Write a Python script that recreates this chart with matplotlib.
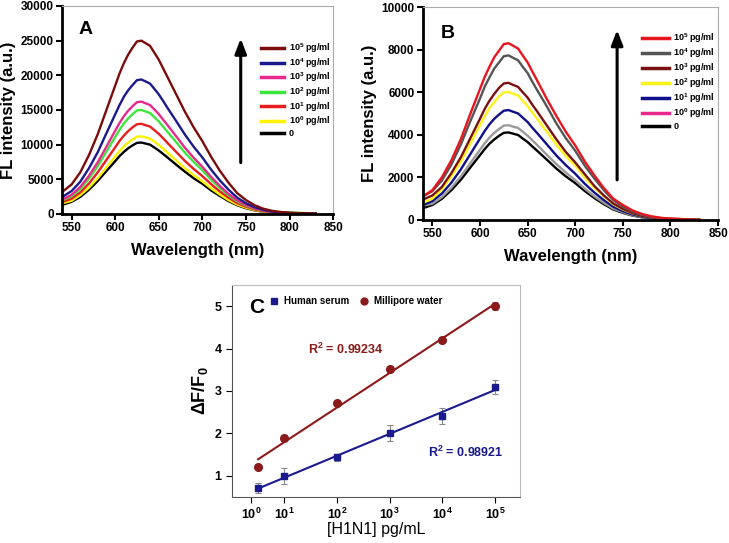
import numpy as np
import matplotlib
matplotlib.use('Agg')
import matplotlib.pyplot as plt
from matplotlib.lines import Line2D

plt.rcParams['font.family'] = ['Liberation Sans', 'DejaVu Sans']
plt.rcParams['mathtext.fontset'] = 'custom'
plt.rcParams['mathtext.rm'] = 'Liberation Sans:bold'
plt.rcParams['mathtext.bf'] = 'Liberation Sans:bold'
plt.rcParams['mathtext.default'] = 'bf'

# ---------------- data ----------------
wavelength = [540, 550, 560, 570, 580, 590, 600, 605, 610, 615, 620, 625, 630, 635, 640, 645, 650, 655,
              660, 670, 680, 690, 700, 710, 720, 730, 740, 750, 760, 770, 780, 790, 800, 810, 820, 830]

# Panel A spectra (a.u.)
a_0   = [1350, 1750, 2450, 3500, 4750, 6200, 7600, 8340, 8950, 9480, 9900, 10250, 10300, 10150, 10000, 9580, 9150, 8650,
         8150, 7100, 6100, 5150, 4350, 3400, 2600, 1850, 1250, 820, 520, 310, 185, 110, 70, 50, 30, 20]
a_1e0 = [1550, 1900, 2700, 3800, 5150, 6700, 8300, 9070, 9750, 10300, 10750, 11140, 11200, 11030, 10850, 10420, 9950, 9410,
         8850, 7700, 6600, 5600, 4700, 3700, 2800, 2000, 1350, 900, 560, 340, 200, 120, 80, 55, 35, 20]
a_1e1 = [1750, 2200, 3100, 4400, 6000, 7800, 9600, 10530, 11300, 11960, 12500, 12940, 13000, 12800, 12600, 12090, 11550, 10920,
         10250, 8950, 7650, 6500, 5450, 4300, 3250, 2350, 1550, 1050, 650, 390, 230, 140, 90, 65, 40, 25]
a_1e2 = [2000, 2550, 3600, 5100, 6900, 9000, 11100, 12150, 13050, 13800, 14400, 14930, 15000, 14780, 14550, 13950, 13350, 12600,
         11850, 10350, 8850, 7500, 6300, 4950, 3750, 2700, 1800, 1200, 760, 470, 300, 220, 190, 160, 130, 110]
a_1e3 = [2100, 2750, 3900, 5500, 7450, 9700, 12000, 13120, 14100, 14900, 15550, 16120, 16200, 15960, 15700, 15070, 14400, 13610,
         12800, 11200, 9550, 8100, 6800, 5350, 4050, 2900, 1950, 1300, 810, 490, 290, 180, 110, 80, 50, 30]
a_1e4 = [2500, 3300, 4650, 6600, 8900, 11650, 14350, 15710, 16900, 17850, 18600, 19300, 19400, 19110, 18800, 18040, 17250, 16300,
         15300, 13400, 11450, 9700, 8150, 6400, 4850, 3500, 2350, 1550, 970, 580, 350, 210, 140, 100, 60, 40]
a_1e5 = [3250, 4250, 6000, 8500, 11500, 15000, 18500, 20250, 21750, 23000, 24000, 24880, 25000, 24630, 24250, 23250, 22250, 21000,
         19750, 17250, 14750, 12500, 10500, 8250, 6250, 4500, 3000, 2000, 1250, 750, 450, 275, 175, 125, 75, 50]
a_labels = ['0', '10$^0$ pg/ml', '10$^1$ pg/ml', '10$^2$ pg/ml', '10$^3$ pg/ml', '10$^4$ pg/ml', '10$^5$ pg/ml']
a_colors = ['#000000', '#FFF200', '#E81E1E', '#3CE63C', '#E8288C', '#1A1A8C', '#7B0C0C']

# Panel B spectra (a.u.)
b_0   = [550, 700, 990, 1400, 1890, 2470, 3040, 3330, 3580, 3780, 3950, 4090, 4110, 4050, 3990, 3820, 3660, 3450,
         3250, 2840, 2420, 2050, 1730, 1360, 1030, 740, 490, 330, 205, 125, 75, 45, 29, 20, 12, 8]
b_1e0 = [680, 760, 1070, 1510, 2050, 2670, 3290, 3600, 3870, 4090, 4270, 4430, 4450, 4380, 4320, 4140, 3960, 3740,
         3520, 3070, 2630, 2230, 1870, 1470, 1110, 800, 530, 360, 220, 135, 80, 50, 30, 22, 13, 9]
b_1e1 = [700, 880, 1240, 1750, 2380, 3100, 3820, 4180, 4490, 4750, 4950, 5130, 5160, 5080, 5000, 4800, 4600, 4330,
         4080, 3560, 3040, 2580, 2170, 1700, 1290, 930, 620, 410, 260, 155, 95, 57, 36, 26, 15, 10]
b_1e2 = [800, 1000, 1450, 2050, 2750, 3600, 4450, 4870, 5250, 5530, 5800, 5990, 6015, 5920, 5850, 5590, 5350, 5050,
         4750, 4150, 3550, 3000, 2550, 2000, 1500, 1100, 730, 490, 310, 190, 120, 80, 60, 45, 35, 30]
b_1e3 = [950, 1150, 1550, 2200, 2950, 3850, 4750, 5220, 5600, 5920, 6200, 6410, 6440, 6340, 6250, 5990, 5750, 5410,
         5100, 4450, 3800, 3200, 2700, 2150, 1600, 1150, 770, 520, 320, 190, 115, 70, 45, 30, 20, 10]
b_1e4 = [1100, 1350, 1850, 2600, 3550, 4650, 5700, 6260, 6700, 7110, 7400, 7690, 7730, 7610, 7500, 7190, 6900, 6490,
         6100, 5350, 4550, 3850, 3250, 2550, 1950, 1400, 930, 620, 390, 230, 140, 85, 55, 40, 25, 15]
b_1e5 = [1100, 1400, 2000, 2800, 3800, 5000, 6150, 6720, 7200, 7640, 7950, 8260, 8300, 8180, 8050, 7720, 7400, 6970,
         6550, 5700, 4900, 4150, 3500, 2750, 2100, 1500, 1000, 700, 450, 280, 170, 100, 60, 40, 25, 15]
b_labels = ['0', '10$^0$ pg/ml', '10$^1$ pg/ml', '10$^2$ pg/ml', '10$^3$ pg/ml', '10$^4$ pg/ml', '10$^5$ pg/ml']
b_colors = ['#000000', '#9A9A9A', '#10108A', '#FFF21A', '#7A1010', '#555555', '#E8141E']
b_legend_colors = ['#000000', '#E8288C', '#10108A', '#FFF21A', '#7A1010', '#555555', '#E8141E']

# Panel C calibration
c_tick_pos = [0.37, 1, 2, 3, 4, 5]
c_tick_labels = ['10$^0$', '10$^1$', '10$^2$', '10$^3$', '10$^4$', '10$^5$']
c_x = [0.5, 1, 2, 3, 4, 5]
serum_y = [0.70, 1.00, 1.43, 2.00, 2.41, 3.10]
serum_err = [0.12, 0.19, 0.08, 0.19, 0.19, 0.17]
water_y = [1.20, 1.90, 2.71, 3.51, 4.20, 5.00]
water_err = [0.07, 0.07, 0.06, 0.06, 0.07, 0.09]

# ---------------- figure ----------------
fig = plt.figure(figsize=(7.29, 5.43), dpi=100)

def style_spectrum_axes(ax):
    for s in ['left', 'bottom']:
        ax.spines[s].set_linewidth(2.0)
        ax.spines[s].set_color('black')
    for s in ['top', 'right']:
        ax.spines[s].set_linewidth(0.8)
        ax.spines[s].set_color('#AAAAAA')
    ax.tick_params(axis='both', direction='out', length=4, width=1.5, labelsize=8.5,
                   top=False, right=False, pad=2)
    for lab in ax.get_xticklabels() + ax.get_yticklabels():
        lab.set_fontweight('bold')
    ax.set_xlabel('Wavelength (nm)', fontsize=12, fontweight='bold', labelpad=6)
    ax.set_ylabel('FL intensity (a.u.)', fontsize=12, fontweight='bold', labelpad=3)

# Panel A
axA = fig.add_axes([0.085, 0.606, 0.372, 0.383])
seriesA = [a_0, a_1e0, a_1e1, a_1e2, a_1e3, a_1e4, a_1e5]
for ys, c, lab in zip(seriesA, a_colors, a_labels):
    axA.plot(wavelength, ys, color=c, lw=1.7, label=lab)
axA.set_xlim(539, 850)
axA.set_ylim(0, 30000)
axA.set_xticks([550, 600, 650, 700, 750, 800, 850])
axA.set_yticks([0, 5000, 10000, 15000, 20000, 25000, 30000])
style_spectrum_axes(axA)
axA.text(0.06, 0.885, 'A', transform=axA.transAxes, fontsize=14, fontweight='bold', va='center')
axA.annotate('', xy=(744, 25700), xytext=(744, 7000),
             arrowprops=dict(arrowstyle='-|>,head_width=0.35,head_length=0.9', lw=2.2, color='black'))
hA, lA = axA.get_legend_handles_labels()
legA = axA.legend(hA[::-1], lA[::-1], loc='upper left', bbox_to_anchor=(0.71, 0.86),
                  frameon=False, fontsize=6.5, handlelength=2.6, handletextpad=0.5,
                  labelspacing=0.1, borderpad=0.2)
for t in legA.get_texts():
    t.set_fontweight('bold')
for l in legA.get_lines():
    l.set_linewidth(2.5)

# Panel B
axB = fig.add_axes([0.580, 0.595, 0.405, 0.392])
seriesB = [b_0, b_1e0, b_1e1, b_1e2, b_1e3, b_1e4, b_1e5]
for ys, c in zip(seriesB, b_colors):
    axB.plot(wavelength, ys, color=c, lw=1.7)
axB.set_xlim(540, 850)
axB.set_ylim(0, 10000)
axB.set_xticks([550, 600, 650, 700, 750, 800, 850])
axB.set_yticks([0, 2000, 4000, 6000, 8000, 10000])
style_spectrum_axes(axB)
axB.text(0.06, 0.875, 'B', transform=axB.transAxes, fontsize=14, fontweight='bold', va='center')
axB.annotate('', xy=(744, 9050), xytext=(744, 1750),
             arrowprops=dict(arrowstyle='-|>,head_width=0.35,head_length=0.9', lw=2.2, color='black'))
hB = [Line2D([], [], color=c, lw=2.5) for c in b_legend_colors]
legB = axB.legend(hB[::-1], b_labels[::-1], loc='upper left', bbox_to_anchor=(0.72, 0.915),
                  frameon=False, fontsize=6.5, handlelength=3.0, handletextpad=0.5,
                  labelspacing=0.15, borderpad=0.2)
for t in legB.get_texts():
    t.set_fontweight('bold')

# Panel C
axC = fig.add_axes([0.318, 0.085, 0.395, 0.390])
for s in axC.spines.values():
    s.set_color('#BBBBBB')
    s.set_linewidth(0.8)
axC.spines['left'].set_color('#555555')
axC.spines['bottom'].set_color('#555555')
axC.errorbar(c_x, serum_y, yerr=serum_err, fmt='none', ecolor='#888888', elinewidth=0.8, capsize=2.5, capthick=0.8)
axC.errorbar(c_x, water_y, yerr=water_err, fmt='none', ecolor='#888888', elinewidth=0.8, capsize=2.5, capthick=0.8)
xf = np.array([c_x[0], c_x[-1]])
ps = np.polyfit(c_x, serum_y, 1)
pw = np.polyfit(c_x, water_y, 1)
axC.plot(xf, np.polyval(pw, xf), color='#8B1A1A', lw=1.5)
axC.plot(xf, np.polyval(ps, xf), color='#1A1A8C', lw=1.5)
axC.plot(c_x, serum_y, 's', color='#1A1A8C', ms=5, label='Human serum')
axC.plot(c_x, water_y, 'o', color='#8B1A1A', ms=5.5, label='Millipore water')
axC.set_xlim(0, 5.47)
axC.set_ylim(0.5, 5.5)
axC.set_xticks(c_tick_pos)
axC.set_xticklabels(c_tick_labels)
axC.set_yticks([1, 2, 3, 4, 5])
axC.tick_params(axis='both', direction='out', length=4, width=0.8, labelsize=9, top=False, right=False)
axC.tick_params(axis='x', pad=3)
for lab in axC.get_xticklabels() + axC.get_yticklabels():
    lab.set_fontweight('bold')
axC.set_xlabel('[H1N1] pg/mL', fontsize=11.5, labelpad=0)
axC.set_ylabel(r'$\Delta$F/F$_0$', fontsize=13, fontweight='bold', labelpad=3)
axC.text(0.33, 4.97, 'C', fontsize=15, fontweight='bold', va='center')
axC.text(1.45, 3.98, 'R$^2$ = 0.99234', color='#8B1A1A', fontsize=9, fontweight='bold', va='center')
axC.text(3.72, 1.55, 'R$^2$ = 0.98921', color='#1A1A8C', fontsize=9, fontweight='bold', va='center')
legC = axC.legend(loc='center left', bbox_to_anchor=(0.1, 0.925), ncol=2, frameon=False,
                  fontsize=7, handlelength=1.0, handletextpad=0.5, columnspacing=1.0, markerscale=0.9)
for t in legC.get_texts():
    t.set_fontweight('bold')

fig.savefig('out.png', dpi=100)
